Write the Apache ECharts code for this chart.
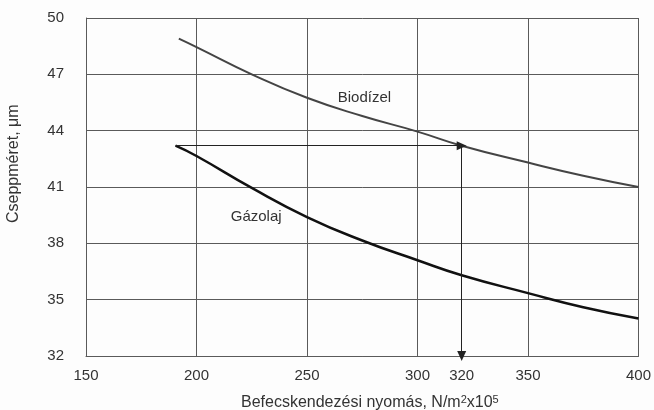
<!DOCTYPE html>
<html>
<head>
<meta charset="utf-8">
<script src="https://cdn.jsdelivr.net/npm/echarts@6/dist/echarts.min.js"></script>
<style>html,body{margin:0;padding:0;background:#fdfdfd;}#c{width:654px;height:410px;}</style>
</head>
<body>
<div id="c"></div>
<script>
var xTicks = [150, 200, 250, 300, 350, 400];
var yTicks = [32, 35, 38, 41, 44, 47, 50];
var extraXLabel = 320;

var bioX = [192, 200, 225, 250, 275, 300, 320, 350, 375, 400];
var bioY = [48.9, 48.45, 47.0, 45.75, 44.78, 43.95, 43.2, 42.3, 41.6, 41.0];

var gazX = [190.5, 200, 225, 250, 275, 300, 320, 350, 375, 400];
var gazY = [43.2, 42.65, 40.95, 39.4, 38.15, 37.1, 36.3, 35.35, 34.6, 34.0];

var arrowH = [[190.5, 43.2], [320, 43.2]];
var arrowV = [[320, 43.2], [320, 32]];

var labelBio = ['Biodízel', 276, 45.75];
var labelGaz = ['Gázolaj', 227, 39.4];

function pairs(xs, ys) { return xs.map(function (x, i) { return [x, ys[i]]; }); }

var chart = echarts.init(document.getElementById('c'), null, {renderer: 'canvas'});
var font = 'Liberation Sans, Arial, sans-serif';
var gridColor = '#5a5a5a';
var fs = 15;

chart.setOption({
  backgroundColor: '#fdfdfd',
  animation: false,
  grid: {left: 86, right: 12, top: 18, bottom: 54},
  xAxis: [{
    type: 'value', min: xTicks[0], max: xTicks[xTicks.length - 1], interval: 50,
    axisLine: {show: true, lineStyle: {color: gridColor, width: 1}},
    axisTick: {show: false},
    splitLine: {show: true, lineStyle: {color: gridColor, width: 1}},
    axisLabel: {color: '#333', fontSize: fs, fontFamily: font, margin: 12}
  }, {
    type: 'value', position: 'bottom', min: xTicks[0], max: xTicks[xTicks.length - 1], interval: 10,
    axisLine: {show: false}, axisTick: {show: false}, splitLine: {show: false},
    axisLabel: {color: '#333', fontSize: fs, fontFamily: font, margin: 12,
      formatter: function (v) { return v === extraXLabel ? String(v) : ''; }}
  }],
  yAxis: {
    type: 'value', min: yTicks[0], max: yTicks[yTicks.length - 1], interval: 3,
    axisLine: {show: true, lineStyle: {color: gridColor, width: 1}},
    axisTick: {show: false},
    splitLine: {show: true, lineStyle: {color: gridColor, width: 1}},
    axisLabel: {color: '#333', fontSize: fs, fontFamily: font, margin: 22}
  },
  graphic: [
    {type: 'text', left: 241, top: 394, style: {
      text: 'Befecskendezési nyomás, N/m{sup|2}x10{sup|5}', fill: '#333', font: '16px ' + font,
      lineHeight: 18,
      rich: {sup: {fontSize: 11, fontFamily: font, fill: '#333', verticalAlign: 'top', lineHeight: 18, padding: [0, 0, 6, 0]}}
    }},
    {type: 'text', x: 6, y: 223, rotation: Math.PI / 2,
      style: {text: 'Cseppméret, μm', fill: '#333', font: '16px ' + font, align: 'left', verticalAlign: 'top'}}
  ],
  series: [{
    type: 'line', name: 'Biodízel', data: pairs(bioX, bioY), smooth: true, symbol: 'none',
    lineStyle: {color: '#444', width: 2},
    markPoint: {symbol: 'circle', symbolSize: 0, data: [{coord: [labelBio[1], labelBio[2]], value: labelBio[0]}],
      label: {show: true, formatter: labelBio[0], color: '#333', fontSize: fs, fontFamily: font}}
  }, {
    type: 'line', name: 'Gázolaj', data: pairs(gazX, gazY), smooth: true, symbol: 'none',
    lineStyle: {color: '#111', width: 2.5},
    markPoint: {symbol: 'circle', symbolSize: 0, data: [{coord: [labelGaz[1], labelGaz[2]], value: labelGaz[0]}],
      label: {show: true, formatter: labelGaz[0], color: '#333', fontSize: fs, fontFamily: font}}
  }, {
    type: 'line', data: [], silent: true,
    markLine: {
      silent: true, symbol: ['none', 'triangle'], symbolSize: [9, 10],
      label: {show: false},
      lineStyle: {color: '#222', width: 1, type: 'solid'},
      data: [
        [{coord: arrowH[0]}, {coord: arrowH[1]}],
        [{coord: arrowV[0]}, {coord: arrowV[1]}]
      ]
    }
  }]
});
</script>
</body>
</html>
